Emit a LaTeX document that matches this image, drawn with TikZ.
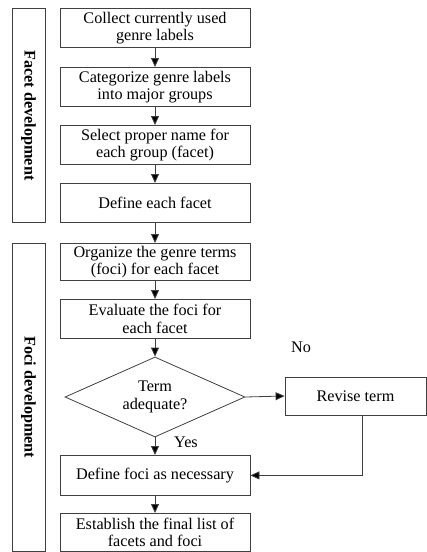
\documentclass[tikz,border=0pt]{standalone}
\usepackage{fontspec}
\setmainfont{Liberation Serif}
\usetikzlibrary{shapes.geometric,arrows.meta}
\begin{document}
\begin{tikzpicture}[x=1pt,y=-1pt,
  every node/.style={font=\fontsize{16.2}{17.5}\selectfont, inner sep=0pt},
  box/.style={draw=black!75, line width=0.8pt, fill=white, minimum width=190pt, align=center, anchor=north},
  side/.style={draw=black!75, line width=0.8pt, minimum width=33pt, anchor=north},
  arr/.style={draw=black!75, line width=0.8pt, -{Triangle[width=8pt,length=9pt,fill=black]}}]
\useasboundingbox (0,0) rectangle (427,552);
\node[box, minimum height=39pt] (b1) at (155,8) {Collect currently used\\genre labels};
\node[box, minimum height=39pt] (b2) at (155,67) {Categorize genre labels\\into major groups};
\node[box, minimum height=39pt] (b3) at (155,125) {Select proper name for\\each group (facet)};
\node[box, minimum height=39pt] (b4) at (155,183) {Define each facet};
\node[box, minimum height=37pt] (b5) at (155,243) {Organize the genre terms\\(foci) for each facet};
\node[box, minimum height=39pt] (b6) at (155,299) {Evaluate the foci for\\each facet};
\node[draw=black!75, line width=0.8pt, diamond, aspect=2.25, minimum width=180pt, minimum height=80pt, align=center] (d) at (155,397) {Term\\adequate?};
\node[box, minimum height=40pt] (b7) at (155,455) {Define foci as necessary};
\node[box, minimum height=38pt] (b8) at (155,513) {Establish the final list of\\facets and foci};
\node[draw=black!75, line width=0.8pt, minimum width=141pt, minimum height=38pt] (rv) at (355.5,396) {Revise term};
\node[side, minimum height=214pt] (s1) at (28.5,8) {};
\node[rotate=-90, font=\fontsize{16.2}{17.5}\selectfont\bfseries] (t1) at (s1.center) {Facet development};
\node[side, minimum height=308pt] (s2) at (28.5,243) {};
\node[rotate=-90, font=\fontsize{16.2}{17.5}\selectfont\bfseries] (t2) at (s2.center) {Foci development};
\draw[arr] (b1) -- (b2);
\draw[arr] (b2) -- (b3);
\draw[arr] (b3) -- (b4);
\draw[arr] (b4) -- (b5);
\draw[arr] (b5) -- (b6);
\draw[arr] (b6) -- (d);
\draw[arr] (d) -- (b7);
\draw[arr] (b7) -- (b8);
\draw[arr] (d.east) -- (rv.west);
\draw[arr] (rv.south -| 362,0) |- (b7.east);
\node (no) at (301,347) {No};
\node (yes) at (186,442) {Yes};
\end{tikzpicture}
\end{document}
